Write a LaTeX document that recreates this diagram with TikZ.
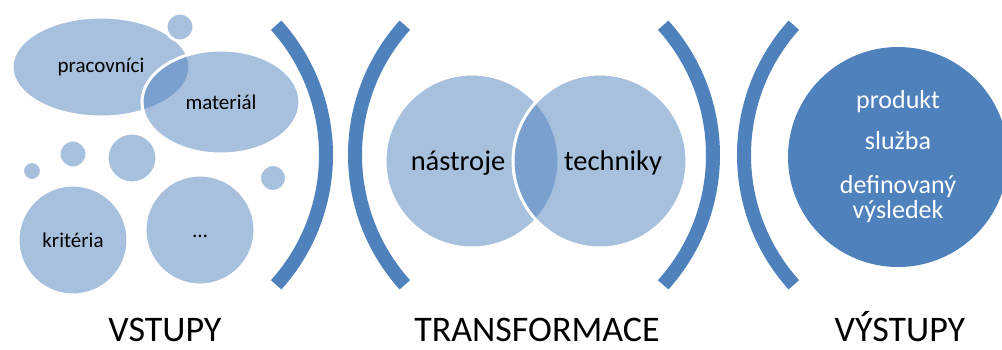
\documentclass[tikz,border=0pt]{standalone}
\usepackage{fontspec}
\setmainfont{Carlito}
\usetikzlibrary{shapes.geometric}
\definecolor{modra}{HTML}{4F81BD}
\tikzset{
  bublina/.style={circle,fill=modra,fill opacity=.5,text opacity=1,draw=white,line width=3pt,
                  inner sep=0pt,outer sep=0pt,font=\fontsize{21}{25}\selectfont},
  elipsa/.style={bublina,ellipse},
  kruh/.style={bublina},
  vysledek/.style={circle,fill=modra,inner sep=0pt,text=white,align=center,
                   font=\fontsize{26}{25}\selectfont},
  zavorka/.style={draw=modra,line width=14pt},
  popis/.style={anchor=base,font=\fontsize{28.5}{34}\selectfont},
  nadpis/.style={anchor=base,text depth=0pt,inner sep=1pt,font=\fontsize{36}{43}\selectfont},
}

\begin{document}
\begin{tikzpicture}[x=1pt,y=-1pt]
  \useasboundingbox (0,0) rectangle (1002,349);
  \clip (0,0) rectangle (1002,349);
  % vstupy
  \node[elipsa,minimum width=178pt,minimum height=100pt] (prac) at (101,67) {pracovníci};
  \node[bublina,minimum size=28pt] (b1) at (180,27) {};
  \node[elipsa,minimum width=158pt,minimum height=104pt] (mat) at (221,102) {materiál};
  \node[bublina,minimum size=28pt] (b2) at (73,154) {};
  \node[bublina,minimum size=19pt] (b3) at (32,171) {};
  \node[bublina,minimum size=50pt] (b4) at (132,158) {};
  \node[bublina,minimum size=27pt] (b5) at (273,178) {};
  \node[bublina,minimum size=110pt] (krit) at (73,240) {kritéria};
  \node[bublina,minimum size=110pt,text height=14pt,text depth=0pt] (dalsi) at (200,230) {…};
  % zavorky
  \draw[zavorka] (132,155) ++(-42:194) arc[start angle=-42,end angle=42,radius=194];
  \draw[zavorka] (549,155) ++(138:194) arc[start angle=138,end angle=222,radius=194];
  \draw[zavorka] (519,155) ++(-42:194) arc[start angle=-42,end angle=42,radius=194];
  \draw[zavorka] (938,155) ++(138:194) arc[start angle=138,end angle=222,radius=194];
  % transformace
  \node[kruh,minimum size=174pt] (nastroje) at (472,161) {};
  \node[kruh,minimum size=174pt] (techniky) at (600,161) {};
  \node[popis] (tn) at (458,170) {nástroje};
  \node[popis] (tt) at (613,170) {techniky};
  % vystupy
  \node[vysledek,minimum size=220pt] (vystup) at (898,157)
    {produkt\\[16pt]služba\\[19pt]definovaný\\výsledek};
  \node[nadpis] (vstupy) at (165,341) {VSTUPY};
  \node[nadpis] (transf) at (537,341) {TRANSFORMACE};
  \node[nadpis] (vystupy) at (900,341) {VÝSTUPY};
\end{tikzpicture}
\end{document}
